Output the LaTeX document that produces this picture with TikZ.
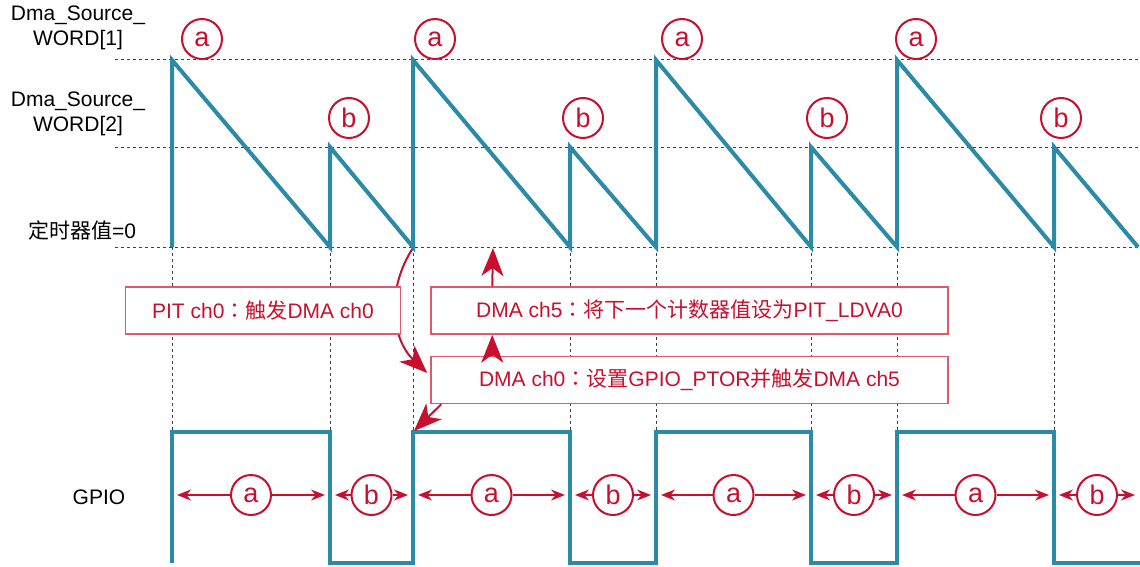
\documentclass[tikz,border=0pt]{standalone}
\usepackage{fontspec}
\setmainfont{Liberation Sans}
\newfontfamily\cjk{Noto Sans CJK SC}
\newfontfamily\cjkpunct{Noto Sans CJK TC}
\newcommand{\fwcolon}{{\cjkpunct ：}}
\usepackage{tikz}
\usetikzlibrary{positioning, arrows.meta, backgrounds}
\definecolor{wave}{RGB}{43, 138, 165}
\definecolor{accent}{RGB}{200, 16, 46}
\definecolor{accentline}{RGB}{222, 88, 112}

\begin{document}
\begin{tikzpicture}[
    x=0.5pt, y=-0.5pt,
    % -------------------------------------------------
    % Signal traces
    % -------------------------------------------------
    signal/.style={
        draw=wave,
        line width=2pt,
        line join=miter
    },
    guide/.style={
        draw=black!75,
        line width=0.5pt,
        dash pattern=on 1.5pt off 1.5pt
    },
    % -------------------------------------------------
    % Node styles
    % -------------------------------------------------
    axislabel/.style={
        align=center,
        inner sep=0pt,
        font=\fontsize{10.5}{12.5}\selectfont
    },
    tagcirc/.style={
        circle,
        draw=accent,
        line width=1pt,
        fill=white,
        minimum size=20pt,
        inner sep=0pt,
        text=accent,
        font=\fontsize{13.5}{13.5}\selectfont
    },
    stepbox/.style={
        rectangle,
        draw=accentline,
        line width=0.75pt,
        fill=white,
        text=accent,
        minimum height=23.5pt,
        inner sep=0pt,
        font=\fontsize{10.5}{12}\selectfont
    },
    % -------------------------------------------------
    % Connections
    % -------------------------------------------------
    arrow/.style={
        -{Stealth[length=14pt, width=11pt, inset=4pt]},
        draw=accent,
        line width=1pt
    },
    spanarrow/.style={
        -{Stealth[length=7pt, width=5.5pt]},
        draw=accent,
        line width=0.75pt
    }
]

\useasboundingbox (0,0) rectangle (1140,567);

% =====================================================
% Axis labels
% =====================================================

\node[axislabel] (word1) at (78,28) {Dma\_Source\_\\WORD[1]};
\node[axislabel] (word2) at (78,114) {Dma\_Source\_\\WORD[2]};
\node[axislabel] (zero) at (82,230) {{\cjk 定时器值}=0};
\node[axislabel] (gpio) at (99,497) {GPIO};

% =====================================================
% Timer counter (sawtooth)
% =====================================================

\coordinate (v1) at (413,248);
\coordinate (g1) at (414,431);
\coordinate (z5) at (493,248);

\draw[signal] (172,247)
    foreach \s/\b/\e in {172/330/413, 413/570/656, 656/811/897, 897/1054/1138} {
        -- (\s,60) -- (\b,247) -- (\b,147) -- (\e,247)
    };

\foreach \x [count=\i] in {202,435,682,916}
    \node[tagcirc] (ta\i) at (\x,39) {a};

\foreach \x [count=\i] in {349,583,827,1061}
    \node[tagcirc] (tb\i) at (\x,118) {b};

% =====================================================
% DMA steps
% =====================================================

\node[stepbox, minimum width=258.5pt] (dma5) at (689.5,310.5)
    {DMA ch5\fwcolon{\cjk 将下一个计数器值设为}PIT\_LDVA0};

\node[stepbox, minimum width=258.5pt, below=10.5pt of dma5] (dma0)
    {DMA ch0\fwcolon{\cjk 设置}GPIO\_PTOR{\cjk 并触发}DMA ch5};

\node[stepbox, minimum width=137.5pt, left=14.5pt of dma5] (pit)
    {PIT ch0\fwcolon{\cjk 触发}DMA ch0};

% =====================================================
% GPIO output
% =====================================================

\draw[signal] (172,563)
    foreach \s/\b/\e in {172/330/413, 413/570/656, 656/811/897, 897/1054/1140} {
        -- (\s,432) -- (\b,432) -- (\b,563) -- (\e,563)
    };

\foreach \l/\r/\t [count=\i] in {172/330/a, 330/413/b, 413/570/a, 570/656/b,
                                  656/811/a, 811/897/b, 897/1054/a, 1054/1140/b} {
    \node[tagcirc] (span\i) at ({(\l+\r)/2},495) {\t};
    \draw[spanarrow] (span\i) -- ({\l+5},495);
    \draw[spanarrow] (span\i) -- ({\r-5},495);
}

% =====================================================
% Guides and trigger flow
% =====================================================

\begin{scope}[on background layer]
    \foreach \y in {60,147,247}
        \draw[guide] (115,\y) -- (1140,\y);
    \foreach \x in {172,330,413,570,656,811,897,1054}
        \draw[guide] (\x,247) -- (\x,430);

    \draw[arrow]
        (v1) to[bend right=40] ([xshift=-1.5pt, yshift=3.5pt]dma0.west);
\end{scope}

\draw[arrow]
    ([xshift=5.5pt]dma0.south west) -- (g1);

\draw[arrow]
    ([xshift=31pt]dma0.north west) -- ([xshift=31pt]dma5.south west);

\draw[arrow]
    ([xshift=31pt]dma5.north west) -- (z5);

\end{tikzpicture}
\end{document}
